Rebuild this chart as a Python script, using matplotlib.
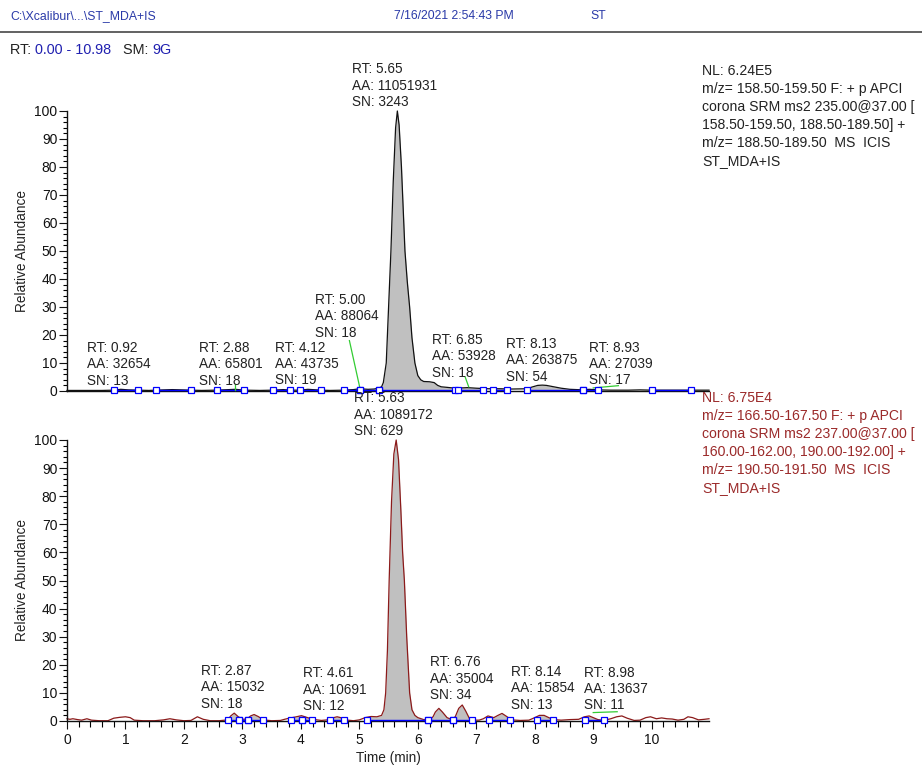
import numpy as np
import matplotlib
matplotlib.use("Agg")
import matplotlib.pyplot as plt
from matplotlib.ticker import MultipleLocator

plt.rcParams['font.family'] = ['Liberation Sans', 'DejaVu Sans']

# ---- chromatogram traces (time in min, relative abundance in %) ----
top_time = [0.00, 0.20, 0.40, 0.60, 0.80, 0.92, 1.05, 1.21, 1.40, 1.53, 1.80, 2.12,
            2.30, 2.56, 2.88, 3.03, 3.30, 3.53, 3.70, 3.82, 3.99, 4.12, 4.34, 4.50,
            4.74, 4.90, 5.00, 5.15, 5.25, 5.33, 5.38, 5.41, 5.46, 5.50, 5.54, 5.58,
            5.62, 5.65, 5.68, 5.72, 5.75, 5.78, 5.82, 5.86, 5.90, 5.95, 6.00, 6.05,
            6.10, 6.20, 6.28, 6.34, 6.40, 6.50, 6.64, 6.85, 7.00, 7.20, 7.40, 7.60,
            7.87, 7.95, 8.05, 8.13, 8.20, 8.30, 8.45, 8.60, 8.83, 8.93, 9.09, 9.30,
            9.60, 9.80, 10.00, 10.30, 10.60, 10.98]
top_abund = [0.2, 0.2, 0.2, 0.2, 0.3, 0.6, 0.4, 0.3, 0.2, 0.3, 0.5, 0.3,
             0.2, 0.3, 0.6, 0.3, 0.2, 0.3, 0.5, 0.3, 0.3, 0.6, 0.3, 0.2,
             0.3, 0.5, 0.8, 0.6, 0.7, 1.0, 1.5, 3.0, 10, 30, 50, 75,
             94, 100, 95, 80, 65, 50, 39, 30, 19, 10, 5.5, 4.0,
             3.4, 3.3, 3.0, 2.0, 1.5, 1.3, 1.0, 1.2, 1.0, 0.8, 0.8, 0.7,
             0.8, 1.4, 2.0, 2.1, 2.0, 1.6, 1.0, 0.6, 0.4, 0.6, 0.4, 0.3,
             0.3, 0.4, 0.3, 0.3, 0.3, 0.3]

bot_time = [0.00, 0.05, 0.10, 0.18, 0.25, 0.34, 0.42, 0.55, 0.70, 0.80, 0.90, 1.00,
            1.08, 1.15, 1.30, 1.50, 1.65, 1.76, 1.87, 2.00, 2.12, 2.23, 2.33, 2.45,
            2.60, 2.75, 2.80, 2.86, 2.93, 3.00, 3.08, 3.14, 3.20, 3.27, 3.36, 3.50,
            3.65, 3.72, 3.80, 3.90, 4.01, 4.10, 4.20, 4.35, 4.50, 4.56, 4.62, 4.68,
            4.75, 4.90, 5.00, 5.10, 5.20, 5.30, 5.38, 5.42, 5.45, 5.48, 5.51, 5.55,
            5.59, 5.63, 5.67, 5.71, 5.74, 5.77, 5.81, 5.86, 5.90, 5.95, 6.00, 6.10,
            6.20, 6.26, 6.30, 6.36, 6.42, 6.50, 6.58, 6.64, 6.70, 6.76, 6.82, 6.88,
            6.95, 7.05, 7.12, 7.20, 7.30, 7.37, 7.44, 7.52, 7.60, 7.75, 7.90, 8.00,
            8.08, 8.16, 8.24, 8.32, 8.45, 8.60, 8.75, 8.85, 8.93, 9.00, 9.08, 9.18,
            9.30, 9.40, 9.49, 9.58, 9.70, 9.80, 9.90, 9.98, 10.08, 10.17, 10.26, 10.35,
            10.45, 10.55, 10.62, 10.70, 10.80, 10.90, 10.98]
bot_abund = [0.8, 0.6, 0.8, 0.5, 0.3, 0.8, 0.3, 0.1, 0.1, 1.0, 1.3, 1.5,
             1.2, 0.3, 0.1, 0.1, 0.4, 0.8, 0.4, 0.1, 0.2, 1.5, 0.6, 0.1,
             0.1, 0.4, 1.8, 2.8, 1.5, 0.6, 0.7, 1.8, 2.3, 1.6, 0.4, 0.1,
             0.2, 0.6, 1.0, 1.4, 1.9, 1.3, 0.6, 0.2, 0.5, 1.2, 1.5, 1.2,
             0.4, 0.1, 0.4, 1.2, 1.6, 1.5, 2.0, 4.0, 10, 25, 50, 78,
             95, 100, 93, 75, 60, 50, 30, 10, 4.0, 2.0, 1.2, 0.5,
             0.5, 1.5, 3.2, 4.5, 3.2, 1.2, 0.5, 1.5, 4.5, 5.7, 3.5, 1.0,
             0.3, 0.3, 0.8, 1.8, 1.2, 2.0, 2.7, 1.6, 0.4, 0.2, 0.3, 1.2,
             2.0, 2.0, 1.2, 0.5, 0.3, 0.5, 0.6, 1.5, 1.8, 1.2, 0.5, 0.2,
             0.8, 1.5, 1.8, 1.0, 0.2, 0.3, 1.2, 1.5, 0.8, 1.1, 0.8, 0.7,
             0.3, 0.6, 1.5, 1.2, 0.4, 0.6, 0.8]

# ---- integrated peaks ----
top_peak_rt = [0.92, 2.88, 4.12, 5.00, 5.65, 6.85, 8.13, 8.93]
top_peak_aa = [32654, 65801, 43735, 88064, 11051931, 53928, 263875, 27039]
top_peak_sn = [13, 18, 19, 18, 3243, 18, 54, 17]

bot_peak_rt = [2.87, 4.61, 5.63, 6.76, 8.14, 8.98]
bot_peak_aa = [15032, 10691, 1089172, 35004, 15854, 13637]
bot_peak_sn = [18, 12, 629, 34, 13, 11]

# integration baseline segments (start, end) in min
top_baselines = [(0.80, 1.21), (1.53, 2.12), (2.56, 3.03), (3.53, 3.82), (3.99, 4.34),
                 (4.74, 5.01), (5.01, 5.34), (5.34, 6.64), (6.69, 7.12), (7.29, 7.52),
                 (7.87, 8.83), (8.83, 9.09), (10.00, 10.68)]
bot_baselines = [(2.75, 2.95), (2.95, 3.10), (3.10, 3.36), (3.83, 4.02), (4.02, 4.19),
                 (4.50, 4.73), (5.13, 6.18), (6.18, 6.61), (6.61, 6.92), (7.21, 7.58),
                 (8.04, 8.32), (8.86, 9.18)]

# ---- layout: label anchors (min, %) and leader lines ----
top_label_xy = [(0.34, 17.9), (2.26, 17.9), (3.56, 18.0), (4.24, 35.0),
                (4.88, 117.4), (6.25, 20.7), (7.51, 19.3), (8.92, 18.0)]
bot_label_xy = [(2.29, 20.3), (4.04, 19.5), (4.91, 117.3), (6.21, 23.4),
                (7.60, 20.0), (8.85, 19.7)]
top_leaders = [((4.83, 18.0), (5.01, 1.0)), ((2.87, 2.5), (2.87, 0.3)),
               ((6.81, 5.0), (6.87, 1.5)), ((9.00, 1.1), (9.43, 1.9))]
bot_leaders = [((9.00, 3.0), (9.41, 3.3))]

W, H = 922, 765
fig = plt.figure(figsize=(W / 100, H / 100), dpi=100)

x0_px, x1_px = 67, 709
ax_top = fig.add_axes([x0_px / W, 1 - 391 / H, (x1_px - x0_px) / W, 280 / H])
ax_bot = fig.add_axes([x0_px / W, 1 - 721 / H, (x1_px - x0_px) / W, 281 / H])

LABEL_FS = 9.8
GRAY = '#c0c0c0'
BLUE = '#0000ff'
GREEN = '#33cc33'


def draw_panel(ax, t, y, color, baselines, rts, aas, sns, label_xy, leaders, show_x):
    t = np.asarray(t)
    y = np.asarray(y)
    # shaded integrated areas
    for a, b in baselines:
        tt = np.union1d(np.linspace(a, b, 60), t[(t >= a) & (t <= b)])
        ax.fill_between(tt, 0, np.interp(tt, t, y), color=GRAY, lw=0, zorder=1)
    ax.plot(t, y, color=color, lw=0.9, zorder=2, clip_on=False)
    # baseline segments with endpoint markers
    for a, b in baselines:
        ax.plot([a, b], [0.25, 0.25], color=BLUE, lw=1.0, zorder=3, clip_on=False)
        ax.plot([a, b], [0.25, 0.25], ls='none', marker='s', ms=4.0, mfc='white',
                mec=BLUE, mew=0.9, zorder=4, clip_on=False)
    for (p0, p1) in leaders:
        ax.plot([p0[0], p1[0]], [p0[1], p1[1]], color=GREEN, lw=0.9, zorder=3, clip_on=False)
    for rt, aa, sn, (lx, ly) in zip(rts, aas, sns, label_xy):
        ax.text(lx, ly, f"RT: {rt:.2f}\nAA: {aa}\nSN: {sn}", ha='left', va='top',
                fontsize=LABEL_FS, color='#222222', linespacing=1.22, clip_on=False)

    ax.set_xlim(0, 10.98)
    ax.set_ylim(0, 100)
    for s in ('top', 'right'):
        ax.spines[s].set_visible(False)
    for s in ('left', 'bottom'):
        ax.spines[s].set_linewidth(1.0)
        ax.spines[s].set_color('#111111')
    ax.yaxis.set_major_locator(MultipleLocator(10))
    ax.yaxis.set_minor_locator(MultipleLocator(2))
    ax.tick_params(axis='y', which='major', length=5.5, width=0.8, direction='out',
                   labelsize=10, pad=1.5, colors='#111111')
    ax.tick_params(axis='y', which='minor', length=3, width=0.8, direction='out')
    if show_x:
        ax.xaxis.set_major_locator(MultipleLocator(1))
        ax.xaxis.set_minor_locator(MultipleLocator(0.2))
        ax.tick_params(axis='x', which='major', length=6, width=0.8, direction='out',
                       labelsize=10, pad=2.5, colors='#111111')
        ax.tick_params(axis='x', which='minor', length=4, width=0.8, direction='out')
    else:
        ax.tick_params(axis='x', which='both', length=0, labelbottom=False)
    ax.patch.set_alpha(0)


draw_panel(ax_top, top_time, top_abund, '#111111', top_baselines, top_peak_rt,
           top_peak_aa, top_peak_sn, top_label_xy, top_leaders, False)
draw_panel(ax_bot, bot_time, bot_abund, '#8b1a1a', bot_baselines, bot_peak_rt,
           bot_peak_aa, bot_peak_sn, bot_label_xy, bot_leaders, True)

# axis titles
for yc in (251, 580):
    fig.text(22 / W, 1 - yc / H, 'Relative Abundance', rotation=90, ha='center',
             va='center', fontsize=9.8, color='#222222')
fig.text(388 / W, 1 - 758 / H, 'Time (min)', ha='center', va='center',
         fontsize=9.8, color='#222222')

# header
HDR_BLUE = '#2a3aa8'
fig.text(10 / W, 1 - 16 / H, r'C:\Xcalibur\...\ST_MDA+IS', fontsize=8.8,
         color=HDR_BLUE, va='center')
fig.text(394 / W, 1 - 16 / H, '7/16/2021 2:54:43 PM', fontsize=8.8,
         color=HDR_BLUE, va='center')
fig.text(590 / W, 1 - 16 / H, 'ST', fontsize=8.8, color=HDR_BLUE, va='center')
fig.add_artist(plt.Line2D([0, 1], [1 - 32 / H, 1 - 32 / H], color='#555555', lw=1.3))

# range / smoothing line
RNG_BLUE = '#2020b0'
parts = [('RT: ', '#222222'), ('0.00 - 10.98', RNG_BLUE), ('   SM: ', '#222222'), ('9G', RNG_BLUE)]
renderer = fig.canvas.get_renderer()
xpos = 10
for txt, col in parts:
    t_ = fig.text(xpos / W, 1 - 50 / H, txt, fontsize=10.4, color=col, va='center')
    xpos += t_.get_window_extent(renderer).width

# trace descriptions
top_desc = ("NL: 6.24E5\nm/z= 158.50-159.50 F: + p APCI\ncorona SRM ms2 235.00@37.00 [\n"
            "158.50-159.50, 188.50-189.50] +\nm/z= 188.50-189.50  MS  ICIS\nST_MDA+IS")
bot_desc = ("NL: 6.75E4\nm/z= 166.50-167.50 F: + p APCI\ncorona SRM ms2 237.00@37.00 [\n"
            "160.00-162.00, 190.00-192.00] +\nm/z= 190.50-191.50  MS  ICIS\nST_MDA+IS")
fig.text(702 / W, 1 - 64 / H, top_desc, fontsize=10.1, color='#222222', va='top',
         ha='left', linespacing=1.36)
fig.text(702 / W, 1 - 391 / H, bot_desc, fontsize=10.1, color='#9b2a2a', va='top',
         ha='left', linespacing=1.36)

fig.savefig('out.png', dpi=100)
